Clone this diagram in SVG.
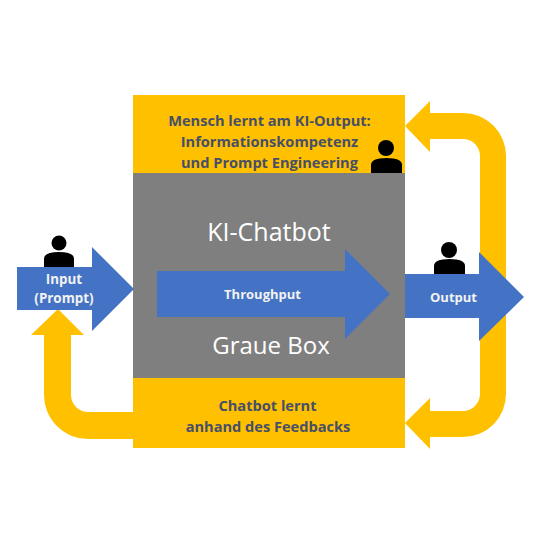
<svg xmlns="http://www.w3.org/2000/svg" width="540" height="540" viewBox="0 0 540 540">
<style>
.y{fill:#ffc000}
.b{fill:#4472c4}
.k{fill:#000}
text{font-family:"Open Sans","Noto Sans",sans-serif;text-anchor:middle}
.l{font-size:14.6px;font-weight:700;fill:#474f69}
.w{font-size:13px;font-weight:700;fill:#f2f2f2}
.i{font-size:13.4px;font-weight:700;fill:#f2f2f2}
.g{font-size:25px;fill:#fff}
</style>
<rect width="540" height="540" fill="#fff"/>
<g id="connectors">
<path id="feedback-top" class="y" d="M405 126L430 101V113H463A43 43 0 0 1 506 156V300H480V156A17 17 0 0 0 463 139H430V152Z"/>
<path id="feedback-bottom" class="y" d="M405 423L430 398V411H463A17 17 0 0 0 480 394V300H506V394A43 43 0 0 1 463 437H430V449Z"/>
<path id="feedback-input" class="y" d="M58 309L84 335H71V395A17 17 0 0 0 88 412H134V439H88A44 44 0 0 1 44 395V335H31Z"/>
</g>
<g id="box-top"><rect class="y" x="133" y="95" width="272" height="79"/>
<text class="l" x="269.500" y="126">Mensch lernt am KI-Output:</text>
<text class="l" x="269.500" y="147">Informationskompetenz</text>
<text class="l" x="269.500" y="168">und Prompt Engineering</text></g>
<g id="box-bottom"><rect class="y" x="133" y="378" width="272" height="70"/>
<text class="l" x="267.500" y="411">Chatbot lernt</text>
<text class="l" x="268" y="432">anhand des Feedbacks</text></g>
<g id="graue-box"><rect x="133" y="173" width="272" height="205" fill="#7f7f7f"/>
<text class="g" x="269" y="241">KI-Chatbot</text>
<text class="g" x="271" y="354" style="font-size:24px">Graue Box</text></g>
<g id="throughput"><path class="b" d="M157 271H345V249L390 294L345 339V317H157Z"/>
<text class="w" x="262.500" y="298.500">Throughput</text></g>
<g id="input"><path class="b" d="M17 267H92V247L134 289L92 331V310H17Z"/>
<text class="i" x="64" y="283.500">Input</text>
<text class="i" x="64" y="302.500">(Prompt)</text></g>
<g id="output"><path class="b" d="M405 274H479V252L524 297L479 341V318H405Z"/>
<text class="w" x="453.500" y="302">Output</text></g>
<g id="person-input"><circle class="k" cx="59" cy="243" r="7.500"/><path class="k" d="M44 267V259Q44 252 59 252Q74 252 74 259V267Z"/></g>
<g id="person-top"><circle class="k" cx="386" cy="148" r="8"/><path class="k" d="M371 173V165Q371 158 386.500 158Q402 158 402 165V173Z"/></g>
<g id="person-output"><circle class="k" cx="449" cy="250" r="8"/><path class="k" d="M434 274V266Q434 259 449.500 259Q465 259 465 266V274Z"/></g>
</svg>
